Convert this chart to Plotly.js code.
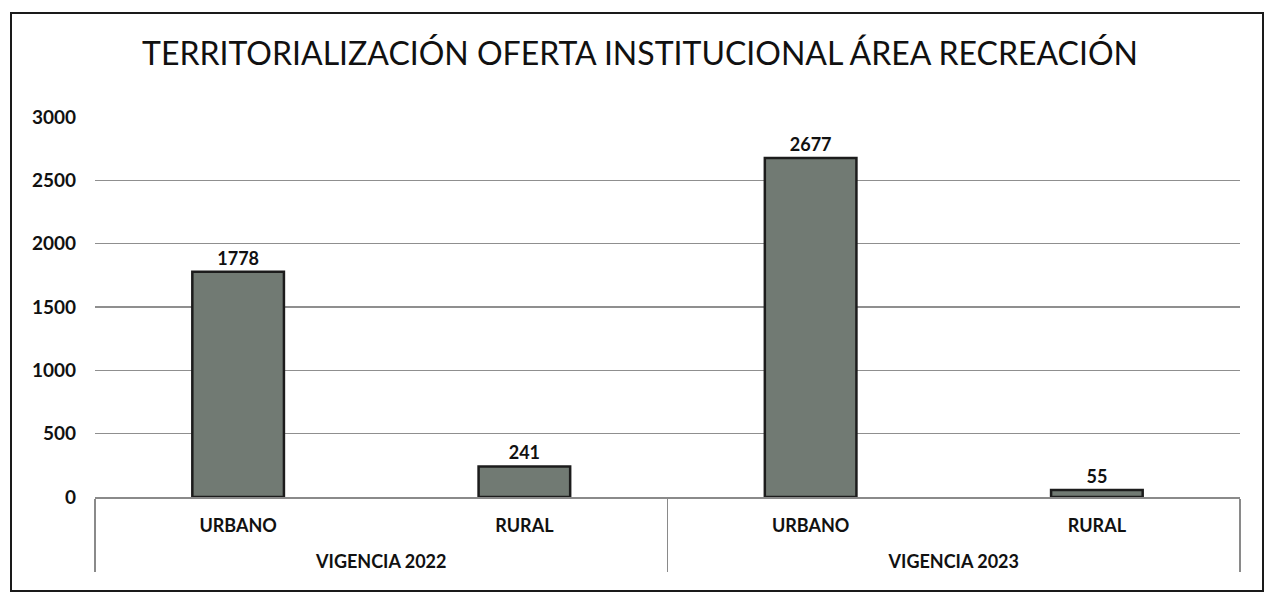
<!DOCTYPE html>
<html>
<head>
<meta charset="utf-8">
<script src="https://cdn.plot.ly/plotly-3.0.1.min.js"></script>
<style>
  html, body { margin: 0; padding: 0; background: #ffffff; }
  #wrap { position: relative; width: 1280px; height: 600px; }
  #chart { position: absolute; left: 0; top: 0; width: 1280px; height: 600px; }
  #frame { position: absolute; left: 10px; top: 12px; width: 1250px; height: 576px;
           border: 2px solid #1a1a1a; pointer-events: none; }
</style>
</head>
<body>
<div id="wrap">
  <div id="chart"></div>
  <div id="frame"></div>
</div>
<script>
const years = ["VIGENCIA 2022", "VIGENCIA 2022", "VIGENCIA 2023", "VIGENCIA 2023"];
const zones = ["URBANO", "RURAL", "URBANO", "RURAL"];
const values = [1778, 241, 2677, 55];
const yTicks = [0, 500, 1000, 1500, 2000, 2500, 3000];

const fontFam = "Lato, Open Sans, sans-serif";

const trace = {
  type: "bar",
  x: [years.map(y => "<br>" + y), zones],
  y: values,
  text: values.map(String),
  textposition: "outside",
  cliponaxis: false,
  textfont: { family: fontFam, size: 18, color: "#111", weight: "bold" },
  marker: { color: "#717a73", line: { color: "#1c1c1c", width: 2.5 } },
  width: 0.32,
  hoverinfo: "skip"
};

const layout = {
  width: 1280, height: 600,
  paper_bgcolor: "#ffffff", plot_bgcolor: "#ffffff",
  margin: { l: 95, r: 40, t: 117, b: 103 },
  showlegend: false,
  title: {
    text: "TERRITORIALIZACIÓN OFERTA INSTITUCIONAL ÁREA RECREACIÓN",
    font: { family: fontFam, size: 32, color: "#111" },
    x: 0.5, xanchor: "center", y: 0.91, yanchor: "middle"
  },
  xaxis: {
    type: "multicategory",
    showgrid: false,
    showline: true, linecolor: "#8a8a8a", linewidth: 1.5,
    showdividers: true, dividercolor: "#8a8a8a", dividerwidth: 1.5,
    ticklabelstandoff: 12,
    tickfont: { family: fontFam, size: 18, color: "#111", weight: "bold" },
    ticks: ""
  },
  yaxis: {
    range: [0, 3000],
    tickvals: yTicks,
    ticktext: yTicks.map(String),
    showgrid: true, gridcolor: "#8f8f8f", gridwidth: 1.2,
    zeroline: false, showline: false, ticks: "",
    ticklabelstandoff: 18,
    tickfont: { family: fontFam, size: 19, color: "#111", weight: "bold" }
  },
  bargap: 0.68
};

Plotly.newPlot("chart", [trace], layout, { displayModeBar: false, staticPlot: true });
</script>
</body>
</html>
